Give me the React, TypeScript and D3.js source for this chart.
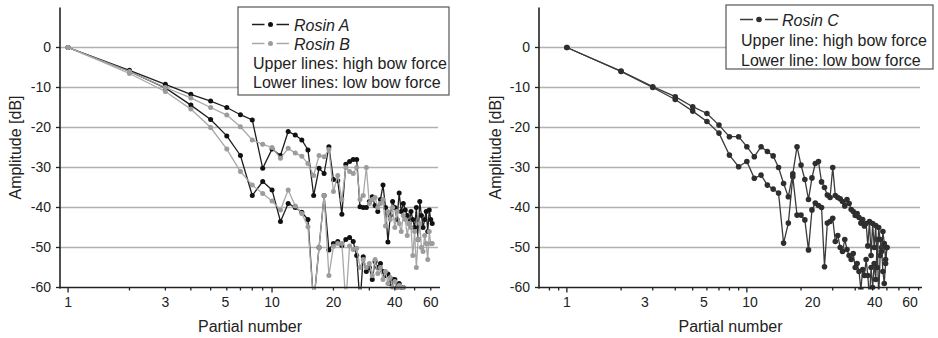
import React from 'react';
import * as d3 from 'd3';

const W = 938;
const H = 338;
const FONT = '"Liberation Sans", Arial, Helvetica, sans-serif';

// ---- data (partial number = index + 1) ----
const rosinAHigh = [
  0, -5.7, -9.2, -11.7, -13.4, -15.0, -16.8, -18.1, -30.2, -25.4,
  -27.0, -21.0, -21.9, -23.1, -25.6, -37.0, -30.2, -31.5, -24.8, -33.0,
  -33.3, -41.7, -29.2, -28.5, -28.0, -28.0, -39.8, -40.0, -40.0, -38.5,
  -37.3, -39.5, -41.0, -38.0, -34.4, -40.0, -48.6, -42.0, -38.5, -40.0,
  -43.0, -36.4, -41.0, -39.0, -40.6, -42.0, -44.0, -41.0, -43.0, -45.0,
  -40.0, -48.0, -38.5, -42.0, -45.0, -43.0, -41.0, -46.0, -40.6, -43.0, -44.0,
];
const rosinBHigh = [
  0, -6.0, -10.0, -12.6, -15.0, -16.9, -19.8, -23.1, -24.2, -25.0,
  -27.7, -25.2, -26.4, -27.2, -29.0, -32.0, -27.0, -27.3, -25.5, -36.0,
  -32.0, -38.0, -30.0, -31.0, -31.5, -30.0, -38.0, -37.0, -30.0, -39.0,
  -38.0, -37.5, -40.0, -39.0, -38.0, -44.6, -41.0, -43.0, -40.0, -45.0,
  -41.0, -44.0, -46.0, -42.0, -43.0, -47.0, -44.0, -45.0, -52.0, -46.0,
  -55.0, -48.0, -44.0, -50.0, -51.0, -47.0, -49.0, -53.0, -46.0, -49.0, -49.0,
];
const rosinALow = [
  0, -6.0, -10.1, -14.4, -18.0, -22.1, -27.0, -37.0, -33.5, -35.6,
  -43.5, -39.0, -40.0, -41.2, -43.0, -64.0, -50.0, -37.0, -50.6, -49.0,
  -48.5, -49.5, -48.0, -47.5, -48.5, -52.0, -64.0, -52.3, -56.0, -55.0,
  -58.0, -53.5, -55.0, -54.0, -56.0, -57.0, -56.6, -59.0, -58.0, -58.0,
  -60.0, -59.0, -61.0, -60.0, -63.0, -65.0,
];
const rosinBLow = [
  0, -6.5, -11.0, -15.4, -20.0, -25.4, -31.0, -34.4, -36.5, -38.4,
  -40.6, -35.6, -39.6, -41.5, -44.8, -64.0, -50.0, -37.0, -57.0, -49.7,
  -49.0, -49.0, -64.0, -49.6, -50.5, -50.2, -55.0, -53.0, -55.0, -54.0,
  -57.0, -53.0, -56.5, -55.0, -58.0, -56.0, -59.0, -57.5, -60.0, -58.5,
  -60.5, -59.5, -61.0, -60.0, -63.0,
];
const rosinCHigh = [
  0, -5.9, -9.8, -12.3, -14.8, -16.5, -19.4, -22.3, -22.3, -24.8,
  -27.3, -24.8, -26.0, -27.1, -30.0, -34.0, -37.3, -31.6, -24.8, -29.4,
  -33.0, -38.0, -32.6, -29.0, -28.5, -33.6, -35.0, -36.9, -37.5, -30.0,
  -37.0, -37.5, -37.8, -38.5, -39.6, -38.0, -39.0, -40.5, -41.0, -42.0,
  -41.5, -42.5, -43.9, -43.0, -44.6, -44.0, -49.6, -43.5, -52.0, -44.0,
  -50.0, -44.5, -55.0, -45.0, -48.0, -51.0, -46.0, -49.0, -53.0, -50.0,
];
const rosinCLow = [
  0, -6.0, -10.0, -13.0, -15.9, -18.5, -21.4, -26.9, -29.8, -28.5,
  -32.7, -31.9, -34.4, -35.4, -36.4, -48.9, -43.9, -32.3, -41.9, -41.9,
  -43.1, -50.6, -40.6, -38.9, -39.5, -40.0, -54.8, -43.9, -43.5, -42.7,
  -48.5, -47.0, -50.0, -51.0, -48.0, -50.5, -52.0, -53.0, -51.5, -55.0,
  -54.0, -56.0, -60.5, -55.5, -57.0, -53.0, -57.0, -63.0, -55.0, -60.0,
  -54.0, -58.0, -48.0, -63.0, -52.0, -50.0, -56.0, -59.0, -54.0, -50.0,
];

const yTicks = [0, -10, -20, -30, -40, -50, -60];
const gridLevels = [0, -10, -20, -30, -40, -50];
const xTickLabels = ['1', '3', '5', '10', '20', '40', '60'];
const leftLabelAnchors = [1, 3, 5.9, 10, 20, 40, 60];
const rightLabelAnchors = [1, 2.71, 5.77, 10.4, 23.2, 51.4, 80.6];
const majorTickValues = [1, 10];
const minorTickValues = [0.8, 0.9, 2, 3, 4, 5, 6, 7, 8, 9, 20, 30, 40, 50, 60, 70, 80, 90];

type Series = { values: number[]; line: string; dot: string };
type LegendRow = { kind: 'series'; label: string; line: string; dot: string } | { kind: 'text'; label: string };

const yScale = d3.scaleLinear().domain([-60, 10]).range([287.5, 7.5]);

function Panel(props: {
  id: string;
  range: [number, number];
  domain: [number, number];
  series: Series[];
  labelAnchors: number[];
  r: number;
  titleX: number;
  legendBox: { x: number; y: number; w: number; h: number };
  legendRows: LegendRow[];
  rowStep: number;
  firstBaseline: number;
  symX: [number, number];
  textX: number;
  plainX: number;
}) {
  const { id, range, domain, series, labelAnchors, r } = props;
  const x = d3.scaleLog().domain(domain).range(range);
  const y = yScale;
  const ax = range[0];
  const x1 = range[1];
  const y0 = y(-60);
  const line = d3
    .line<number>()
    .x((_, i) => x(i + 1))
    .y((v) => y(v));
  const inDomain = (v: number) => v >= domain[0] && v <= domain[1];
  const lb = props.legendBox;
  return (
    <g>
      <defs>
        <clipPath id={id}>
          <rect x={ax} y={0} width={x1 - ax + 4} height={y0 + 2} />
        </clipPath>
      </defs>
      {gridLevels.map((g) => (
        <line key={g} x1={ax} x2={x1 - 2} y1={y(g)} y2={y(g)} stroke="#b0b0b0" strokeWidth={1.4} />
      ))}
      <g clipPath={`url(#${id})`}>
        {series.map((s, si) => (
          <g key={si}>
            <path d={line(s.values) || ''} fill="none" stroke={s.line} strokeWidth={1.3} />
            {s.values.map((v, i) => (
              <circle key={i} cx={x(i + 1)} cy={y(v)} r={r} fill={s.dot} />
            ))}
          </g>
        ))}
      </g>
      {/* axes */}
      <line x1={ax} x2={ax} y1={y(10)} y2={y0 + 1} stroke="#222" strokeWidth={1.6} />
      <line x1={ax - 1} x2={x1} y1={y0} y2={y0} stroke="#222" strokeWidth={1.6} />
      {yTicks.map((t) => (
        <g key={t}>
          <line x1={ax - 4} x2={ax} y1={y(t)} y2={y(t)} stroke="#222" strokeWidth={1.3} />
          <text x={ax - 9} y={y(t)} dy="0.35em" textAnchor="end" fontSize={14} fill="#222" fontFamily={FONT}>
            {t}
          </text>
        </g>
      ))}
      {majorTickValues.filter(inDomain).map((t) => (
        <line key={'M' + t} x1={x(t)} x2={x(t)} y1={y0} y2={y0 + 5} stroke="#222" strokeWidth={1.3} />
      ))}
      {minorTickValues.filter(inDomain).map((t) => (
        <line key={'m' + t} x1={x(t)} x2={x(t)} y1={y0} y2={y0 + 3} stroke="#222" strokeWidth={1.3} />
      ))}
      {xTickLabels.map((lab, i) => (
        <text key={lab} x={x(labelAnchors[i])} y={307} textAnchor="middle" fontSize={14} fill="#222" fontFamily={FONT}>
          {lab}
        </text>
      ))}
      <text x={(ax + x1) / 2} y={332} textAnchor="middle" fontSize={16} fill="#222" fontFamily={FONT}>
        Partial number
      </text>
      <text
        transform={`translate(${props.titleX},${y(-25)}) rotate(-90)`}
        textAnchor="middle"
        dy="0.35em"
        fontSize={16}
        fill="#222"
        fontFamily={FONT}
      >
        Amplitude [dB]
      </text>
      {/* legend */}
      <rect x={lb.x} y={lb.y} width={lb.w} height={lb.h} fill="#fff" stroke="#555" strokeWidth={1.2} />
      {props.legendRows.map((row, i) => {
        const base = props.firstBaseline + i * props.rowStep;
        if (row.kind === 'series') {
          const cy = base - 6;
          const [sa, sb] = props.symX;
          const mid = (sa + sb) / 2;
          return (
            <g key={i}>
              <line x1={sa} x2={mid - 6} y1={cy} y2={cy} stroke={row.line} strokeWidth={1.5} />
              <line x1={mid + 6} x2={sb} y1={cy} y2={cy} stroke={row.line} strokeWidth={1.5} />
              <circle cx={mid} cy={cy} r={r} fill={row.dot} />
              <text x={props.textX} y={base} fontSize={16} fontStyle="italic" fill="#222" fontFamily={FONT}>
                {row.label}
              </text>
            </g>
          );
        }
        return (
          <text key={i} x={props.plainX} y={base} fontSize={16} fill="#222" fontFamily={FONT}>
            {row.label}
          </text>
        );
      })}
    </g>
  );
}

export default function App() {
  const blackLine = '#1e1e1e';
  const blackDot = '#111';
  const grayLine = '#a8a8a8';
  const grayDot = '#9c9c9c';
  const cLine = '#3a3a3a';
  const cDot = '#2e2e2e';
  return (
    <svg
      width={W}
      height={H}
      viewBox={`0 0 ${W} ${H}`}
      style={{ position: 'absolute', left: 0, top: 0, background: '#fff' }}
    >
      <rect x={0} y={0} width={W} height={H} fill="#fff" />
      <Panel
        id="clipL"
        range={[60, 440]}
        domain={[0.913, 66.6]}
        series={[
          { values: rosinALow, line: blackLine, dot: blackDot },
          { values: rosinAHigh, line: blackLine, dot: blackDot },
          { values: rosinBLow, line: grayLine, dot: grayDot },
          { values: rosinBHigh, line: grayLine, dot: grayDot },
        ]}
        labelAnchors={leftLabelAnchors}
        r={2.5}
        titleX={15}
        legendBox={{ x: 238, y: 7, w: 211, h: 88 }}
        legendRows={[
          { kind: 'series', label: 'Rosin A', line: blackLine, dot: blackDot },
          { kind: 'series', label: 'Rosin B', line: grayLine, dot: grayDot },
          { kind: 'text', label: 'Upper lines: high bow force' },
          { kind: 'text', label: 'Lower lines: low bow force' },
        ]}
        rowStep={19}
        firstBaseline={30.5}
        symX={[252, 289]}
        textX={294}
        plainX={253}
      />
      <Panel
        id="clipR"
        range={[539, 922]}
        domain={[0.7, 94]}
        series={[
          { values: rosinCLow, line: cLine, dot: cDot },
          { values: rosinCHigh, line: cLine, dot: cDot },
        ]}
        labelAnchors={rightLabelAnchors}
        r={2.8}
        titleX={495}
        legendBox={{ x: 726, y: 5, w: 207, h: 64 }}
        legendRows={[
          { kind: 'series', label: 'Rosin C', line: cLine, dot: cDot },
          { kind: 'text', label: 'Upper line: high bow force' },
          { kind: 'text', label: 'Lower line: low bow force' },
        ]}
        rowStep={20}
        firstBaseline={25.5}
        symX={[740, 778]}
        textX={782}
        plainX={741}
      />
    </svg>
  );
}
